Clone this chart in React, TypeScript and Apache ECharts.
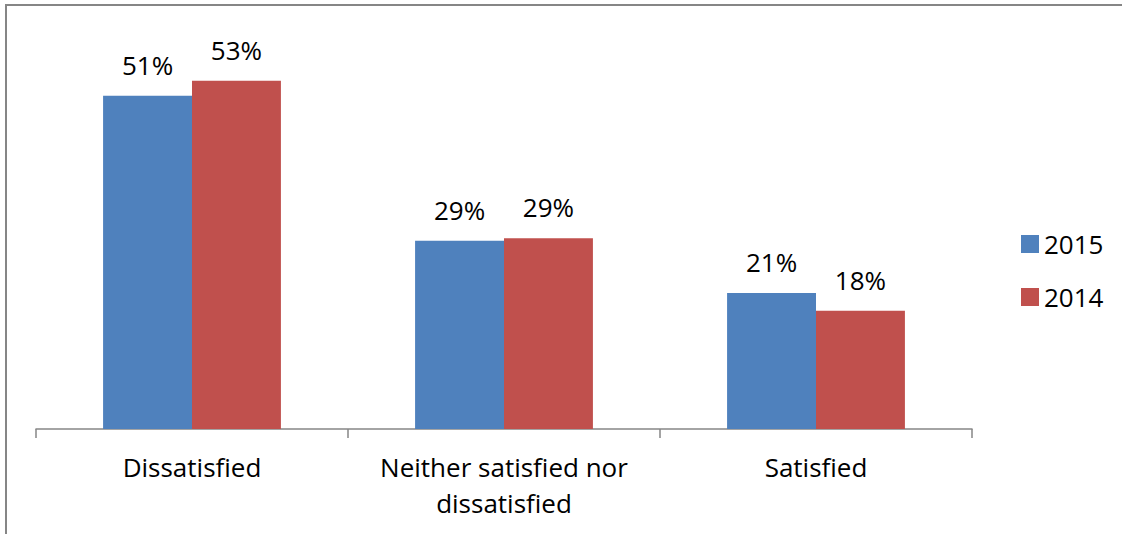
import React, { useEffect, useRef } from "react";
import * as echarts from "echarts";

const categories = ["Dissatisfied", "Neither satisfied nor\ndissatisfied", "Satisfied"];
const series2015 = [51, 28.8, 20.8];
const series2014 = [53.3, 29.2, 18.1];
const seriesNames = ["2015", "2014"];
const colors = ["#4F81BD", "#C0504D"];

const FONT = "'Open Sans', sans-serif";

export default function App() {
  const ref = useRef<HTMLDivElement>(null);
  useEffect(() => {
    if (!ref.current) return;
    const chart = echarts.init(ref.current, undefined, { renderer: "svg" });
    const label = {
      show: true,
      position: "top",
      distance: 18,
      color: "#000",
      fontFamily: FONT,
      fontSize: 26,
      formatter: (p: any) => Math.round(p.value) + "%",
    };
    chart.setOption({
      animation: false,
      backgroundColor: "#fff",
      graphic: [
        {
          type: "rect",
          shape: { x: 6, y: 5, width: 1300, height: 700 },
          style: { fill: "none", stroke: "#868686", lineWidth: 2 },
          silent: true,
        },
      ],
      legend: {
        orient: "vertical",
        left: 1016,
        top: 226,
        itemWidth: 18,
        itemHeight: 18,
        itemGap: 27,
        icon: "rect",
        textStyle: { fontFamily: FONT, fontSize: 26, color: "#000", padding: [0, 0, 0, 0] },
        data: seriesNames,
      },
      grid: { left: 36, right: 150, top: 37, bottom: 105 },
      xAxis: {
        type: "category",
        data: categories,
        axisLine: { lineStyle: { color: "#868686", width: 1.5 } },
        axisTick: { show: true, length: 9, lineStyle: { color: "#868686", width: 1.5 } },
        axisLabel: {
          color: "#000",
          fontFamily: FONT,
          fontSize: 26,
          lineHeight: 36,
          margin: 20,
          interval: 0,
        },
      },
      yAxis: {
        type: "value",
        min: 0,
        max: 60,
        show: false,
        splitLine: { show: false },
      },
      series: [
        {
          name: seriesNames[0],
          type: "bar",
          data: series2015,
          itemStyle: { color: colors[0] },
          barGap: "0%",
          barCategoryGap: "43%",
          label,
        },
        {
          name: seriesNames[1],
          type: "bar",
          data: series2014,
          itemStyle: { color: colors[1] },
          barGap: "0%",
          barCategoryGap: "43%",
          label,
        },
      ],
    });
    return () => chart.dispose();
  }, []);
  return (
    <div
      ref={ref}
      style={{ position: "fixed", left: 0, top: 0, width: 1122, height: 534 }}
    />
  );
}
